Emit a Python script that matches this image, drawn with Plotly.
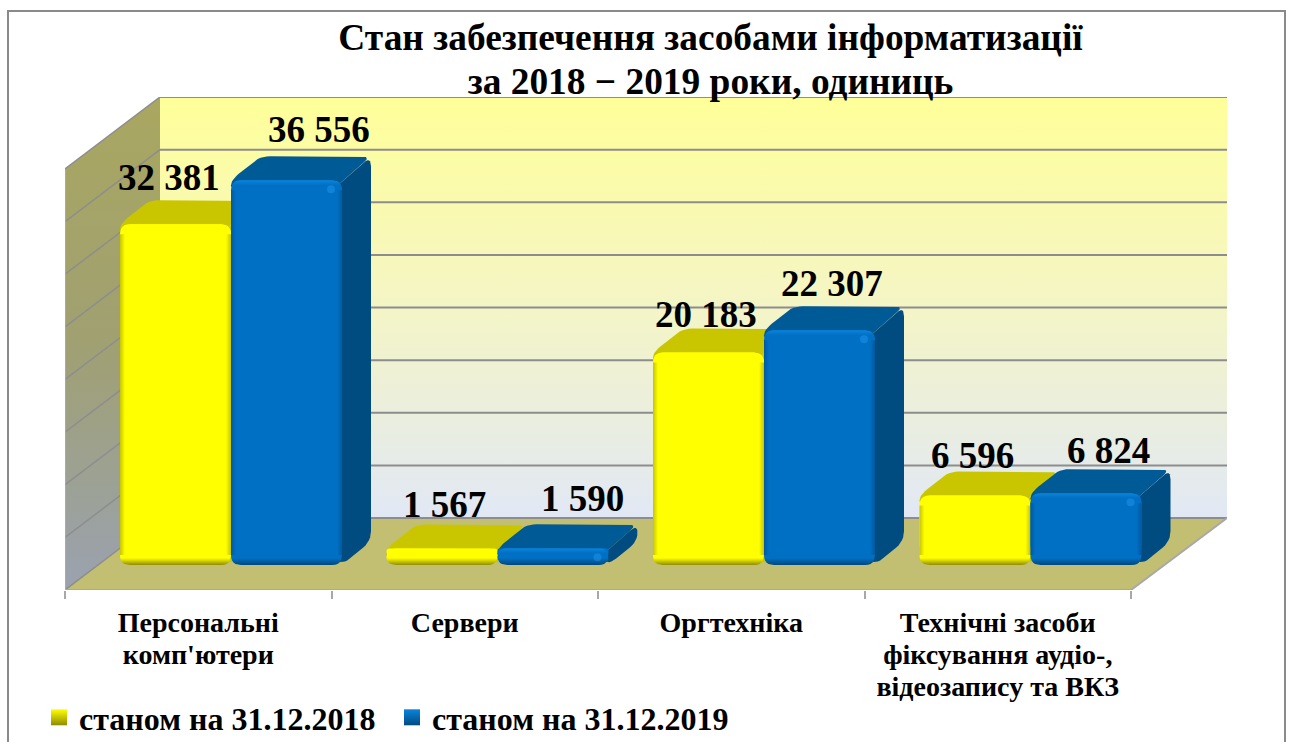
import plotly.graph_objects as go

categories = ["Персональні<br>комп'ютери", "Сервери", "Оргтехніка",
              "Технічні засоби<br>фіксування аудіо-,<br>відеозапису та ВКЗ"]
values_2018 = [32381, 1567, 20183, 6596]
values_2019 = [36556, 1590, 22307, 6824]
name_2018 = "станом на 31.12.2018"
name_2019 = "станом на 31.12.2019"
grid_values = [0, 5000, 10000, 15000, 20000, 25000, 30000, 35000, 40000]
title_lines = ["Стан забезпечення засобами інформатизації", "за 2018 − 2019 роки, одиниць"]

W, H = 1291, 742
ML, MR, MT, MB = 65, 64, 97, 152
PXX = 266.5
PXY = 0.010525
FONT = "Liberation Serif"

def sized(text, size):
    # the outer font size sets the line spacing, the span the glyph size
    return "<br>".join(f'<span style="font-size:{size}px">{t}</span>' for t in text.split("<br>"))

def xd(px):
    return -0.5 + (px - ML) / PXX
def yd(py):
    return (H - MB - py) / PXY
def xp(c):
    return ML + (c + 0.5) * PXX
def yp(v):
    return H - MB - v * PXY

def rounded(pts, r, n=6):
    out = []
    m = len(pts)
    for i in range(m):
        p0, p1, p2 = pts[i - 1], pts[i], pts[(i + 1) % m]
        def toward(a, b):
            dx, dy = b[0] - a[0], b[1] - a[1]
            d = (dx * dx + dy * dy) ** 0.5
            k = min(r, d / 2) / d if d else 0
            return (a[0] + dx * k, a[1] + dy * k)
        a, b = toward(p1, p0), toward(p1, p2)
        for j in range(n + 1):
            t = j / n
            out.append(((1 - t) ** 2 * a[0] + 2 * t * (1 - t) * p1[0] + t * t * b[0],
                        (1 - t) ** 2 * a[1] + 2 * t * (1 - t) * p1[1] + t * t * b[1]))
    out.append(out[0])
    return out

fig = go.Figure()

def poly(pts, z, color=None, grad=None):
    tr = dict(x=[xd(p[0]) for p in pts], y=[yd(p[1]) for p in pts], mode="lines",
              line=dict(width=0), fill="toself", hoverinfo="skip", showlegend=False,
              zorder=z, cliponaxis=False)
    if grad:
        tr["fillgradient"] = grad
    else:
        tr["fillcolor"] = color
    fig.add_trace(go.Scatter(**tr))

def seg(xs, ys, color, width, z=1):
    fig.add_trace(go.Scatter(x=[xd(a) for a in xs], y=[yd(b) for b in ys], mode="lines",
                             line=dict(color=color, width=width), hoverinfo="skip",
                             showlegend=False, zorder=z, cliponaxis=False))

# walls and floor (gradient position 1 is the top of the shape)
FL, FR, FB = 65, 1131, 590
BL, BR, BB = 160, 1227, 518
BT = yp(40000) - 72
poly([(BL, BB), (BL, BT), (BR, BT), (BR, BB)], 0,
     grad=dict(type="vertical", colorscale=[[0, "#e1e8f5"], [0.5, "#f4f5c6"], [1, "#ffff99"]]))
poly([(FL, FB), (FL, FB - (BB - BT)), (BL, BT), (BL, BB)], 0,
     grad=dict(type="vertical", colorscale=[[0, "#9aa2b0"], [0.5, "#a0a072"], [1, "#a9a760"]]))
poly([(FL, FB), (BL, BB), (BR, BB), (FR, FB)], 0, color="#c2bf73")
for v in grid_values:
    seg([FL, BL], [yp(v), yp(v) - 72], "#8d8d8d", 1.5)
    seg([BL, BR], [yp(v) - 72, yp(v) - 72], "#8d8d8d", 2)
seg([FL, FR, BR], [FB, FB, BB], "#a8a8a8", 2)
seg([FL, FL], [FB, yp(40000)], "#b5b5b5", 1)

# bars
BAR_W = 111
BOTTOM = 565
DX, DY = 29, 24
R = 10
LIFT0 = (H - MB - BOTTOM) / PXY
def ytop(v):
    return BOTTOM - v * PXY
series = [
    dict(name=name_2018, vals=values_2018, off=-78.25, z=2, front="#ffff00", top="#c9c600",
         side="#c9c600", hi="#ffff00", lo="#8f8c00", edge="rgba(150,150,0,0.55)",
         edge0="rgba(150,150,0,0)", spot="rgba(255,255,60,0)"),
    dict(name=name_2019, vals=values_2019, off=32.75, z=6, front="#0070c4", top="#005a96",
         side="#004b80", hi="#0b84dc", lo="#00487f", edge="rgba(0,70,130,0.55)",
         edge0="rgba(0,70,130,0)", spot="rgba(30,150,240,0.5)"),
]
for s in series:
    z = s["z"]
    for c, v in enumerate(s["vals"]):
        x0 = xp(c) + s["off"]
        x1 = x0 + BAR_W
        yt = ytop(v)
        poly(rounded([(x0, yt + R), (x0, yt), (x0 + DX, yt - DY), (x1 + DX, yt - DY), (x1 - R, yt + R)], R),
             z, color=s["top"])
        poly(rounded([(x1 - R, yt + R), (x1 + DX, yt - DY), (x1 + DX, BOTTOM - DY), (x1, BOTTOM),
                      (x1 - R, BOTTOM - R)], R), z, color=s["side"])
    # bar from library, lifted above the rounded lower corners
    lift = LIFT0 + R / PXY
    fig.add_trace(go.Bar(x=list(range(4)), y=[v - R / PXY for v in s["vals"]], base=lift,
                         width=BAR_W / PXX, offset=s["off"] / PXX, name=s["name"],
                         marker=dict(color=s["front"], cornerradius=R, line=dict(width=0)),
                         showlegend=False, zorder=z + 1))
    for c, v in enumerate(s["vals"]):
        x0 = xp(c) + s["off"]
        x1 = x0 + BAR_W
        yt = ytop(v)
        h = BOTTOM - yt
        a, b = max(0.55, 1 - 5 / h), min(0.45, 7 / h)
        poly(rounded([(x0, yt), (x1, yt), (x1, BOTTOM), (x0, BOTTOM)], R), z + 2,
             grad=dict(type="vertical", colorscale=[[0, s["lo"]], [b, s["front"]], [a, s["front"]], [1, s["hi"]]]))
        if h > 30:
            poly([(x0, yt + R), (x0 + 5, yt + R), (x0 + 5, BOTTOM - R), (x0, BOTTOM - R)], z + 3,
                 grad=dict(type="horizontal", colorscale=[[0, s["edge"]], [1, s["edge0"]]]))
            poly([(x1 - 5, yt + R), (x1, yt + R), (x1, BOTTOM - R), (x1 - 5, BOTTOM - R)], z + 3,
                 grad=dict(type="horizontal", colorscale=[[0, s["edge0"]], [1, s["edge"]]]))
    fig.add_trace(go.Scatter(x=[xd(xp(c) + s["off"] + BAR_W - 11) for c in range(4)],
                             y=[yd(ytop(v) + min(9, (BOTTOM - ytop(v)) * 0.55)) for v in s["vals"]],
                             mode="markers", marker=dict(size=8, color=s["spot"], line=dict(width=0)),
                             hoverinfo="skip", showlegend=False, zorder=z + 3))

# legend entries
for name, col, dark in [(name_2018, "#ffff00", "#8f8c00"), (name_2019, "#0b84dc", "#004b80")]:
    fig.add_trace(go.Scatter(x=[None], y=[None], mode="markers", name=name,
                             marker=dict(symbol="square", size=16, color=col,
                                         gradient=dict(type="vertical", color=dark)),
                             hoverinfo="skip"))

# value labels: (dx, dy) are hand placement from the bar's front centre
label_shift_2018 = [(-7, 47), (2, 44), (-3, 38), (-3, 40)]
label_shift_2019 = [(32, 51), (29, 50), (12, 47), (22, 43)]
annos = []
for s, shifts in ((series[0], label_shift_2018), (series[1], label_shift_2019)):
    for c, v in enumerate(s["vals"]):
        annos.append(dict(x=xd(xp(c) + s["off"] + BAR_W / 2), y=v + LIFT0,
                          text=f"{v:,}".replace(",", " "), showarrow=False,
                          xshift=shifts[c][0], yshift=shifts[c][1], xanchor="center", yanchor="middle",
                          font=dict(family=FONT, size=37, color="black", weight=700)))

pw, ph = W - ML - MR, H - MT - MB
fig.update_layout(
    width=W, height=H, margin=dict(l=ML, r=MR, t=MT, b=MB, autoexpand=False),
    paper_bgcolor="white", plot_bgcolor="rgba(0,0,0,0)", barmode="overlay",
    title=dict(text=sized("<br>".join(title_lines), 37.4), x=710.5 / W, xanchor="center", xref="container",
               y=1 - 50 / H, yanchor="top", yref="container",
               font=dict(family=FONT, size=33.8, color="black", weight=700)),
    xaxis=dict(type="linear", range=[-0.5, xd(W - MR)], tickmode="array", tickvals=list(range(4)),
               ticktext=[sized(t, 28) for t in categories], ticks="", showgrid=False, zeroline=False,
               showline=False, ticklabelstandoff=16, tickangle=0,
               tickfont=dict(family=FONT, size=24.6, color="black", weight=700),
               minor=dict(tickmode="array", tickvals=[-0.5, 0.5, 1.5, 2.5, 3.5], ticks="outside",
                          ticklen=8, tickwidth=2, tickcolor="#a8a8a8", showgrid=False)),
    yaxis=dict(range=[0, yd(MT)], visible=False),
    legend=dict(orientation="h", xref="container", yref="container", x=39 / W, y=1 - 690 / H,
                xanchor="left", yanchor="top", entrywidth=308, entrywidthmode="pixels",
                font=dict(family=FONT, size=32, color="black", weight=700),
                itemsizing="trace", bgcolor="rgba(0,0,0,0)", borderwidth=0),
    annotations=annos,
    shapes=[dict(type="rect", xref="paper", yref="paper", layer="below",
                 x0=(8 - ML) / pw, x1=(1285 - ML) / pw,
                 y0=(H - MB - 770) / ph, y1=(H - MB - 11) / ph,
                 line=dict(color="#8a8a8a", width=2), fillcolor="rgba(0,0,0,0)")],
)
fig.write_html("out.html", config={"displayModeBar": False},
               post_script="document.body.style.margin='0';document.body.style.overflow='hidden';")
